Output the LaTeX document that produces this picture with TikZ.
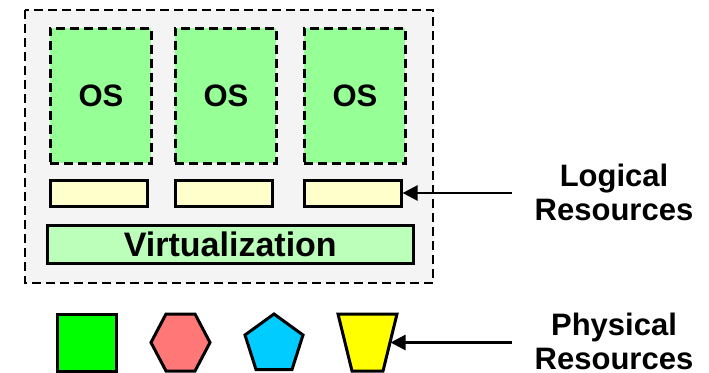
\documentclass[tikz,border=0pt]{standalone}
\usepackage{fontspec}
\setmainfont{Liberation Sans}
\usetikzlibrary{arrows.meta}

\definecolor{hostgray}{RGB}{244,244,244}
\definecolor{osgreen}{RGB}{150,255,150}
\definecolor{virtgreen}{RGB}{187,255,187}
\definecolor{slotyellow}{RGB}{255,255,204}
\definecolor{cpugreen}{RGB}{0,255,0}
\definecolor{memred}{RGB}{255,119,119}
\definecolor{netblue}{RGB}{0,204,255}
\definecolor{diskyellow}{RGB}{255,255,0}

\tikzset{
  dashline/.style={draw=black, line width=2.8pt, dash pattern=on 9pt off 5pt},
  hostbox/.style={dashline, fill=hostgray},
  osbox/.style={dashline, fill=osgreen, font=\bfseries\fontsize{31}{33}\selectfont,
    minimum width=101pt, minimum height=135pt, inner sep=0pt, anchor=north west},
  slotbox/.style={draw=black, line width=2.6pt, fill=slotyellow,
    minimum width=97pt, minimum height=26pt, inner sep=0pt, anchor=north west},
  virtbox/.style={draw=black, line width=2.6pt, fill=virtgreen,
    font=\bfseries\fontsize{34}{36}\selectfont,
    minimum width=366pt, minimum height=38pt, inner sep=0pt, anchor=north west},
  physshape/.style={draw=black, line width=3pt, line join=miter},
  reslabel/.style={font=\bfseries\fontsize{31}{34}\selectfont, align=center, inner sep=0pt},
  pointer/.style={draw=black, line width=2.5pt, -{Triangle[length=15pt,width=15pt]}},
}

\begin{document}
\begin{tikzpicture}[x=1pt, y=-1pt]
  \useasboundingbox (0,0) rectangle (709,372);

  % host with its guests
  \draw[hostbox] (25,10) rectangle (433,283);
  \node[osbox] (os1) at (49,27)  {OS};
  \node[osbox] (os2) at (174,27) {OS};
  \node[osbox] (os3) at (303,27) {OS};
  \node[slotbox] (slot1) at (49,179)  {};
  \node[slotbox] (slot2) at (174,179) {};
  \node[slotbox] (slot3) at (303,179) {};
  \node[virtbox] (virt) at (46,224) {Virtualization};

  % physical resources
  \draw[physshape, fill=cpugreen] (57,314) rectangle (116,371);
  \draw[physshape, fill=memred]
    (151,342.5) -- (166,314) -- (195,314) -- (210,342.5) -- (195,371) -- (166,371) -- cycle;
  \draw[physshape, fill=netblue]
    (274,314) -- (303,335) -- (292,369.5) -- (256,369.5) -- (245,335) -- cycle;
  \draw[physshape, fill=diskyellow]
    (338,314) -- (397,314) -- (383,371) -- (352,371) -- cycle;
  \coordinate (diskedge) at (390.5,342.5);

  % labels and pointers
  \node[reslabel] (logical) at (614,192) {Logical\\Resources};
  \node[reslabel] (physical) at (614,341) {Physical\\Resources};
  \coordinate (logtail) at (512,193);
  \coordinate (phystail) at (512,342.5);
  \draw[pointer] (logtail) -- (slot3.east |- logtail);
  \draw[pointer] (phystail) -- (diskedge);
\end{tikzpicture}
\end{document}
